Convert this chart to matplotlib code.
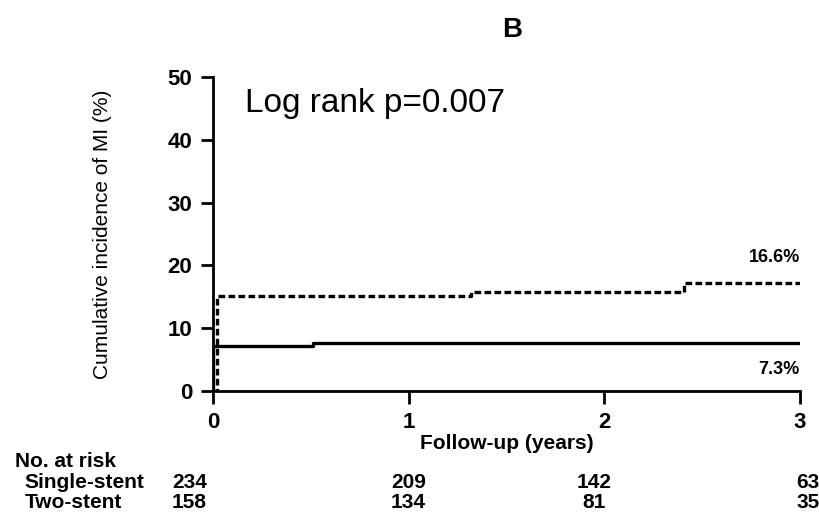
import numpy as np
import matplotlib
matplotlib.use('Agg')
import matplotlib.pyplot as plt
from matplotlib.transforms import blended_transform_factory

# step curves (years, cumulative %)
single_t = [0, 0.0, 0.51, 3.0]
single_y = [0, 7.2, 7.6, 7.6]
two_t = [0, 0.02, 1.32, 2.41, 3.0]
two_y = [0, 15.2, 15.8, 17.2, 17.2]

risk_times = [0, 1, 2, 3]
risk_single = [234, 209, 142, 63]
risk_two = [158, 134, 81, 35]
risk_xpos = [-0.12, 1.0, 1.95, 3.04]

font = ['Liberation Sans', 'DejaVu Sans']

fig = plt.figure(figsize=(8.19, 5.16), dpi=100)
ax = fig.add_axes([0.260, 0.2422, 0.7167, 0.6085])

ax.step(single_t, single_y, where='post', color='black', lw=2.4)
ax.step(two_t, two_y, where='post', color='black', lw=2.4,
        linestyle=(0, (2.0, 1.0)))

ax.set_xlim(0, 3)
ax.set_ylim(0, 50)
ax.set_xticks(risk_times)
ax.set_yticks([0, 10, 20, 30, 40, 50])
for s in ['top', 'right']:
    ax.spines[s].set_visible(False)
for s in ['left', 'bottom']:
    ax.spines[s].set_linewidth(2)
ax.tick_params(width=2, length=9, direction='out', pad=6)
for lab in ax.get_xticklabels() + ax.get_yticklabels():
    lab.set_fontfamily(font)
    lab.set_fontweight('bold')
    lab.set_fontsize(16)

ax.set_ylabel('Cumulative incidence of MI (%)', family=font, fontsize=15,
              labelpad=40)
ax.set_xlabel('Follow-up (years)', family=font, fontsize=15,
              fontweight='bold', labelpad=1)

ax.text(0.055, 0.917, 'Log rank p=0.007', transform=ax.transAxes,
        family=font, fontsize=24, va='center', ha='left')
ax.text(3.0, 21.2, '16.6%', family=font, fontsize=13, fontweight='bold',
        ha='right', va='center')
ax.text(3.0, 3.5, '7.3%', family=font, fontsize=13, fontweight='bold',
        ha='right', va='center')

fig.text(0.625, 0.942, 'B', family=font, fontsize=20, fontweight='bold',
         ha='center', va='center')

tr = blended_transform_factory(ax.transData, fig.transFigure)
fig.text(0.018, 0.105, 'No. at risk', family=font, fontsize=15,
         fontweight='bold', va='center')
fig.text(0.030, 0.064, 'Single-stent', family=font, fontsize=15,
         fontweight='bold', va='center')
fig.text(0.030, 0.026, 'Two-stent', family=font, fontsize=15,
         fontweight='bold', va='center')
for x, a, b in zip(risk_xpos, risk_single, risk_two):
    ax.text(x, 0.064, str(a), transform=tr, family=font, fontsize=15,
            fontweight='bold', ha='center', va='center', clip_on=False)
    ax.text(x, 0.026, str(b), transform=tr, family=font, fontsize=15,
            fontweight='bold', ha='center', va='center', clip_on=False)

fig.savefig('out.png', dpi=100)
